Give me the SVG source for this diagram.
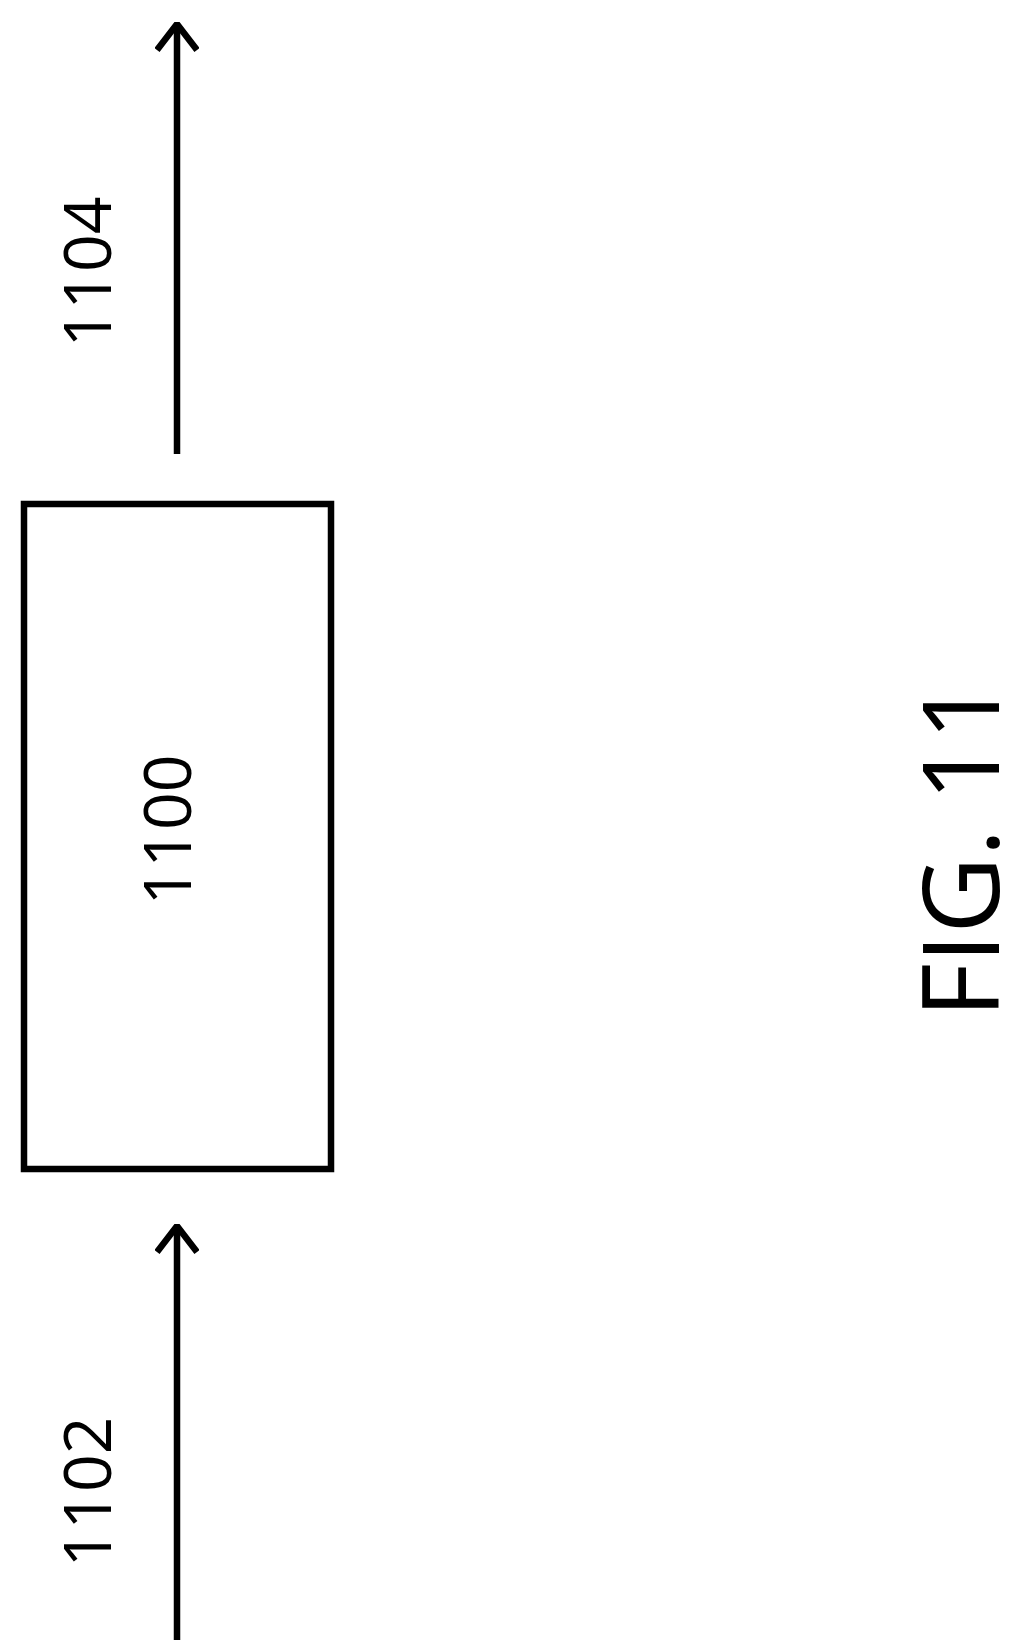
<svg xmlns="http://www.w3.org/2000/svg" width="1025" height="1640" viewBox="0 0 1025 1640">
<style>
.ln{stroke:#000;stroke-width:6.5;fill:none}
.t{font-family:"Open Sans","Noto Sans",sans-serif;font-size:66px;fill:#000;text-anchor:middle;dominant-baseline:central}
</style>
<defs>
<marker id="ah" viewBox="0 0 30 44" refX="28" refY="22" markerWidth="30" markerHeight="44" markerUnits="userSpaceOnUse" orient="auto">
<path d="M2,2 L28,22 L2,42" stroke="#000" stroke-width="6.5" fill="none"/>
</marker>
</defs>
<rect width="1025" height="1640" fill="#fff"/>
<g id="connectors">
<line class="ln" x1="177" y1="454" x2="177" y2="24" marker-end="url(#ah)"/>
<line class="ln" x1="177" y1="1640" x2="177" y2="1226" marker-end="url(#ah)"/>
</g>
<g id="n1100">
<rect class="ln" x="24" y="504" width="307" height="665"/>
<text class="t" transform="translate(165,830) rotate(-90)">1100</text>
</g>
<g id="n1104"><text class="t" transform="translate(85,272) rotate(-90)">1104</text></g>
<g id="n1102"><text class="t" transform="translate(85,1492) rotate(-90)">1102</text></g>
<g id="fig"><text class="t" style="font-size:106px" transform="translate(958,849) rotate(-90)">FIG. 11</text></g>
</svg>
